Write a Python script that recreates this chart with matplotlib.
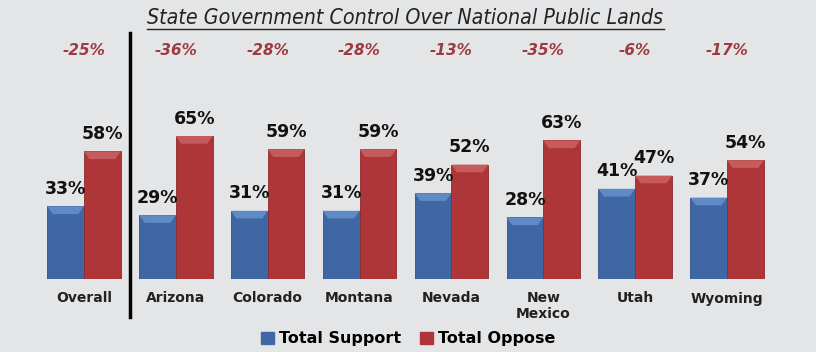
import numpy as np
import matplotlib
matplotlib.use("Agg")
import matplotlib.pyplot as plt
from matplotlib.lines import Line2D
from matplotlib.patches import Rectangle, Polygon

# data
categories = ["Overall", "Arizona", "Colorado", "Montana", "Nevada", "New\nMexico", "Utah", "Wyoming"]
support = [33, 29, 31, 31, 39, 28, 41, 37]
oppose = [58, 65, 59, 59, 52, 63, 47, 54]
net = ["-25%", "-36%", "-28%", "-28%", "-13%", "-35%", "-6%", "-17%"]

bg = "#e4e5e7"
blue = "#3e67a3"
red = "#ae3638"
net_color = "#9e3a3f"

fig = plt.figure(figsize=(8.16, 3.52), dpi=100, facecolor=bg)
ax = fig.add_axes([38 / 816, 73 / 352, 735 / 816, 176 / 352])
ax.set_facecolor(bg)

x = np.arange(len(categories))
w = 0.4
b1 = ax.bar(x - w / 2, support, w, color=blue, edgecolor="#2f5188", linewidth=0.6)
b2 = ax.bar(x + w / 2, oppose, w, color=red, edgecolor="#8a2a2c", linewidth=0.6)

# light bevel on top of each bar
for bars, light in ((b1, "#5f8ac6"), (b2, "#c75a5c")):
    for r in bars:
        x0, x1, h = r.get_x(), r.get_x() + r.get_width(), r.get_height()
        ins, d = 0.06, 3.5
        ax.add_patch(Polygon([(x0, h), (x1, h), (x1 - ins, h - d), (x0 + ins, h - d)],
                             closed=True, facecolor=light, edgecolor="none", zorder=3))

for bars in (b1, b2):
    for r in bars:
        h = r.get_height()
        ax.annotate(f"{h:.0f}%", (r.get_x() + r.get_width() / 2, h),
                    xytext=(0, 6), textcoords="offset points",
                    ha="center", va="bottom", fontsize=12.5, fontweight="bold",
                    color="#111111")

# net difference row
for xi, t in zip(x, net):
    ax.text(xi, 1.30, t, transform=ax.get_xaxis_transform(), ha="center", va="center",
            fontsize=11, fontweight="bold", fontstyle="italic", color=net_color)

# separator between overall and the states
ax.axvline(0.5, ymin=-0.216, ymax=1.398, color="black", linewidth=2.5, clip_on=False)

ax.set_xlim(-0.5, len(categories) - 0.5)
ax.set_ylim(0, 80)
ax.set_xticks(x)
ax.set_xticklabels(categories, fontsize=10, fontweight="bold", color="#222222", linespacing=1.1)
ax.tick_params(axis="x", length=0, pad=9)
ax.set_yticks([])
for s in ax.spines.values():
    s.set_visible(False)

# title, underlined
title = fig.text(0.497, 0.95, "State Government Control Over National Public Lands",
                 ha="center", va="center", fontsize=15.3, fontstyle="italic",
                 fontstretch="condensed", family="DejaVu Sans", color="#222222")
fig.canvas.draw()
bb = title.get_window_extent().transformed(fig.transFigure.inverted())
fig.add_artist(Line2D([bb.x0, bb.x1], [bb.y0 - 0.004, bb.y0 - 0.004],
                      transform=fig.transFigure, color="#222222", linewidth=1))

handles = [Rectangle((0, 0), 1, 1, color=blue), Rectangle((0, 0), 1, 1, color=red)]
fig.legend(handles, ["Total Support", "Total Oppose"], loc="center", bbox_to_anchor=(0.5, 0.037),
           ncol=2, frameon=False, handlelength=0.8, handleheight=0.8, handletextpad=0.3,
           columnspacing=1.2, prop={"weight": "bold", "size": 11.5})

fig.savefig("out.png", dpi=100, facecolor=bg)
